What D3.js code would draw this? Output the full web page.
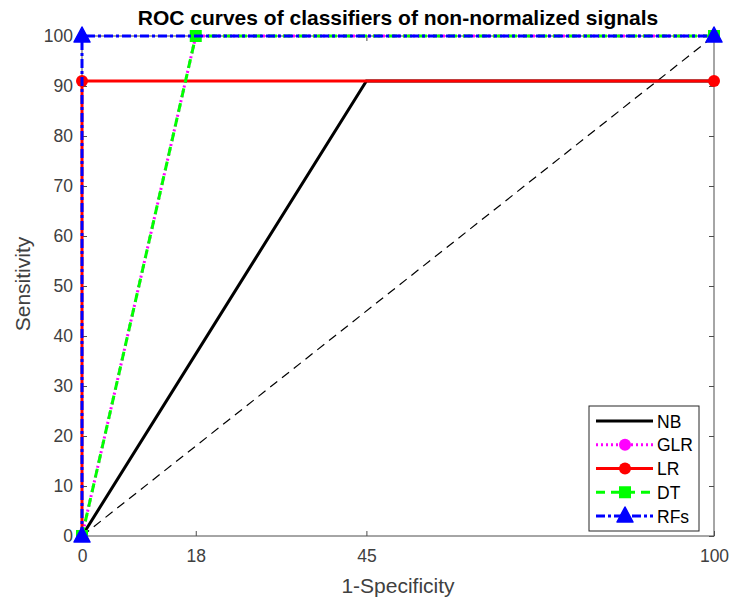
<!DOCTYPE html>
<html><head><meta charset="utf-8">
<script src="https://cdn.jsdelivr.net/npm/d3@7"></script>
<style>body{margin:0;background:#fff;} text{font-family:"Liberation Sans",Arial,sans-serif;}</style>
</head><body>
<svg id="c" width="730" height="601"></svg>
<script>
const xTicks = [0, 18, 45, 100];
const yTicks = [0, 10, 20, 30, 40, 50, 60, 70, 80, 90, 100];
const seriesNames = ["NB", "GLR", "LR", "DT", "RFs"];
const nbX = [0, 45, 100], nbY = [0, 91, 91];
const glrX = [0, 18, 100], glrY = [0, 100, 100];
const lrX = [0, 0, 100], lrY = [0, 91, 91];
const dtX = [0, 18, 100], dtY = [0, 100, 100];
const rfX = [0, 0, 100], rfY = [0, 100, 100];
const chanceX = [0, 100], chanceY = [0, 100];

const svg = d3.select("#c");
const L = 82, R = 714, T = 36, B = 536;
const x = d3.scaleLinear().domain([0, 100]).range([L, R]);
const y = d3.scaleLinear().domain([0, 100]).range([B, T]);
const axisCol = "#404040";

// box
svg.append("rect").attr("x", L).attr("y", T).attr("width", R - L).attr("height", B - T)
  .attr("fill", "none").attr("stroke", "#4d4d4d").attr("stroke-width", 1);

function styleAxis(g) {
  g.select(".domain").remove();
  g.selectAll("line").attr("stroke", "#4d4d4d");
  g.selectAll("text").attr("fill", axisCol).style("font-size", "17.5px").style("font-family", "Liberation Sans, Arial, sans-serif");
}
svg.append("g").attr("transform", `translate(0,${B})`)
  .call(d3.axisBottom(x).tickValues(xTicks).tickSize(-5).tickPadding(14).tickFormat(d3.format("d"))).call(styleAxis);
svg.append("g").attr("transform", `translate(0,${T})`)
  .call(d3.axisTop(x).tickValues(xTicks).tickSize(-5).tickFormat("")).call(styleAxis);
svg.append("g").attr("transform", `translate(${L},0)`)
  .call(d3.axisLeft(y).tickValues(yTicks).tickSize(-5).tickPadding(9).tickFormat(d3.format("d"))).call(styleAxis);
svg.append("g").attr("transform", `translate(${R},0)`)
  .call(d3.axisRight(y).tickValues(yTicks).tickSize(-5).tickFormat("")).call(styleAxis);

const line = d3.line().x(d => x(d[0])).y(d => y(d[1]));
const zip = (a, b) => a.map((v, i) => [v, b[i]]);

// chance line
svg.append("path").attr("d", line(zip(chanceX, chanceY))).attr("fill", "none")
  .attr("stroke", "#000").attr("stroke-width", 1.2).attr("stroke-dasharray", "9,6");

const styles = [
  {name: "NB", X: nbX, Y: nbY, color: "#000000", dash: null, marker: null},
  {name: "GLR", X: glrX, Y: glrY, color: "#ff00ff", dash: "2,3", marker: "circle"},
  {name: "LR", X: lrX, Y: lrY, color: "#ff0000", dash: null, marker: "circle"},
  {name: "DT", X: dtX, Y: dtY, color: "#00ff00", dash: "9,6", marker: "square"},
  {name: "RFs", X: rfX, Y: rfY, color: "#0000ff", dash: "9,3,3,3", marker: "triangle"}
];

function drawMarker(g, type, cx, cy, color) {
  if (type === "circle") g.append("circle").attr("cx", cx).attr("cy", cy).attr("r", 6).attr("fill", color);
  else if (type === "square") g.append("rect").attr("x", cx - 6).attr("y", cy - 6).attr("width", 12).attr("height", 12).attr("fill", color);
  else if (type === "triangle") g.append("path").attr("d", `M${cx},${cy - 9}L${cx + 8},${cy + 6}L${cx - 8},${cy + 6}Z`)
    .attr("fill", color).attr("stroke", color).attr("stroke-width", 1.5).attr("stroke-linejoin", "round");
}

styles.forEach(s => {
  const g = svg.append("g");
  g.append("path").attr("d", line(zip(s.X, s.Y))).attr("fill", "none")
    .attr("stroke", s.color).attr("stroke-width", 3).attr("stroke-dasharray", s.dash);
  if (s.marker) zip(s.X, s.Y).forEach(p => drawMarker(g, s.marker, x(p[0]), y(p[1]), s.color));
});

// title & labels
svg.append("text").attr("x", 398).attr("y", 25).attr("text-anchor", "middle")
  .style("font-size", "21px").style("font-weight", "bold").attr("fill", "#000")
  .text("ROC curves of classifiers of non-normalized signals");
svg.append("text").attr("x", 398).attr("y", 593).attr("text-anchor", "middle")
  .style("font-size", "21px").attr("fill", axisCol).text("1-Specificity");
svg.append("text").attr("transform", "translate(30,284) rotate(-90)").attr("text-anchor", "middle")
  .style("font-size", "21px").attr("fill", axisCol).text("Sensitivity");

// legend
const lg = svg.append("g");
lg.append("rect").attr("x", 589).attr("y", 406).attr("width", 110).attr("height", 125)
  .attr("fill", "#fff").attr("stroke", "#262626").attr("stroke-width", 1);
const ly = d3.scalePoint().domain(seriesNames).range([421, 516]);
styles.forEach(s => {
  const yy = ly(s.name);
  lg.append("line").attr("x1", 596).attr("x2", 653).attr("y1", yy).attr("y2", yy)
    .attr("stroke", s.color).attr("stroke-width", 3).attr("stroke-dasharray", s.dash);
  if (s.marker) drawMarker(lg, s.marker, 625, yy, s.color);
  lg.append("text").attr("x", 657).attr("y", yy + 6.5).style("font-size", "17.5px").attr("fill", "#000").text(s.name);
});
</script>
</body></html>
